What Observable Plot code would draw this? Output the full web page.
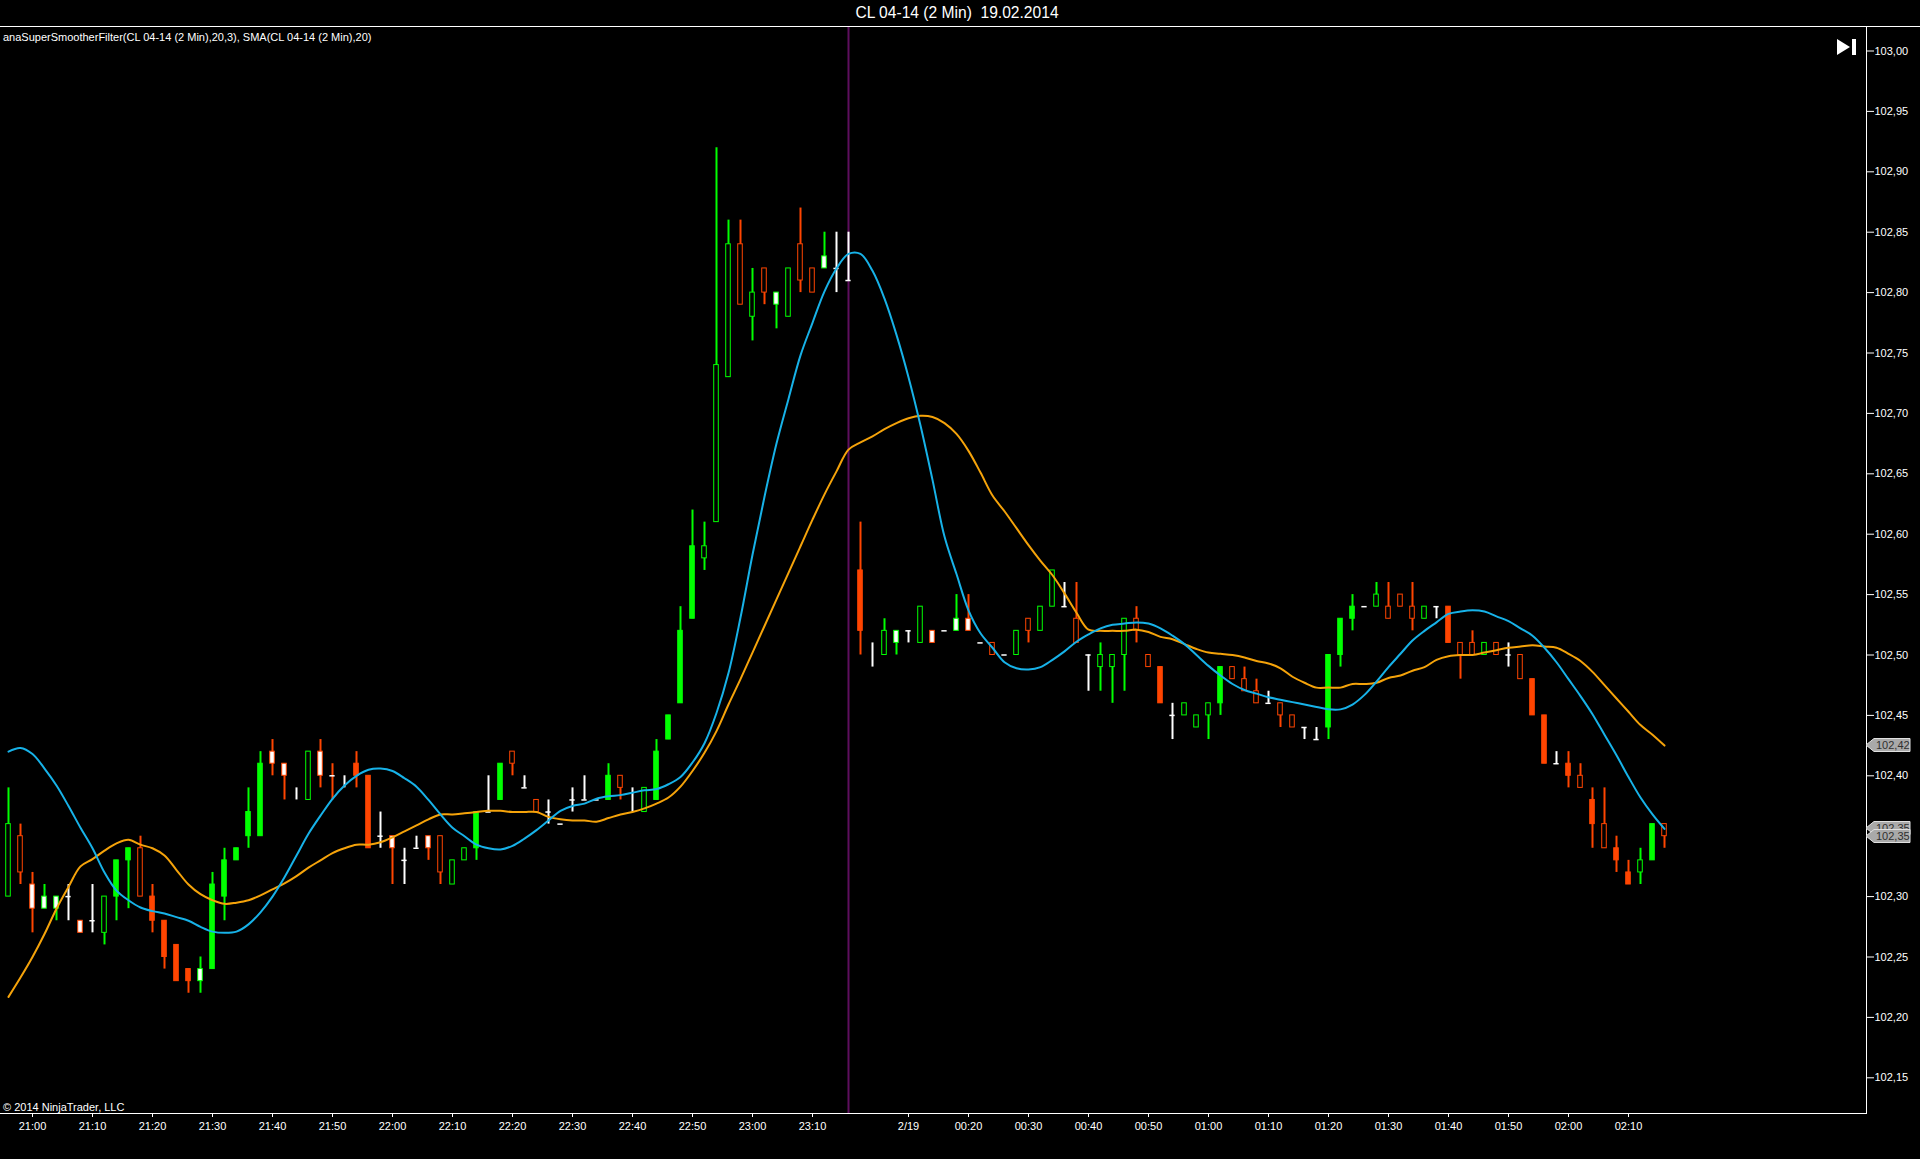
<!DOCTYPE html>
<html><head><meta charset="utf-8">
<script src="https://cdn.jsdelivr.net/npm/d3@7"></script>
<script src="https://cdn.jsdelivr.net/npm/@observablehq/plot@0.6"></script>
<style>
html,body{margin:0;padding:0;background:#000;}
#wrap{position:relative;width:1920px;height:1159px;background:#000;overflow:hidden;font-family:"Liberation Sans",Arial,sans-serif;}
#chart{position:absolute;left:0;top:0;}
#title{position:absolute;left:-3px;top:0;width:1920px;height:26px;line-height:26px;text-align:center;color:#fff;font-size:15.6px;white-space:pre;}
#topline{position:absolute;left:0;top:26px;width:1920px;height:1px;background:#fff;}
#legend{position:absolute;left:3px;top:31px;color:#fff;font-size:11px;white-space:pre;}
#copy{position:absolute;left:3px;top:1101px;color:#fff;font-size:11px;}
#icon{position:absolute;left:1834px;top:36px;}
</style></head>
<body><div id="wrap">
<div id="chart"></div>
<div id="title">CL 04-14 (2 Min)  19.02.2014</div>
<div id="topline"></div>
<div id="legend">anaSuperSmootherFilter(CL 04-14 (2 Min),20,3), SMA(CL 04-14 (2 Min),20)</div>
<div id="copy">© 2014 NinjaTrader, LLC</div>
<svg id="icon" width="26" height="22"><polygon points="3,3 16,11 3,19" fill="#fff"/><rect x="18" y="3" width="4" height="16" fill="#fff"/></svg>
</div>
<script>
// Bars indexed 0..138 (2-minute bars, 20:56 .. 02:16)
const opens = [102.30,102.35,102.31,102.29,102.29,102.30,102.28,102.28,102.27,102.30,
102.33,102.34,102.30,102.28,102.26,102.24,102.23,102.24,102.30,102.33,
102.35,102.35,102.42,102.41,102.39,102.38,102.42,102.41,102.40,102.41,
102.40,102.35,102.35,102.33,102.34,102.35,102.35,102.31,102.33,102.34,
102.37,102.38,102.42,102.39,102.38,102.37,102.36,102.38,102.38,102.38,
102.38,102.40,102.39,102.37,102.38,102.43,102.46,102.53,102.58,102.61,
102.73,102.84,102.78,102.82,102.79,102.78,102.84,102.82,102.82,102.82,
102.81,102.57,102.50,102.50,102.51,102.52,102.51,102.52,102.52,102.52,
102.53,102.51,102.51,102.50,102.50,102.53,102.52,102.54,102.54,102.53,
102.50,102.49,102.49,102.50,102.53,102.50,102.49,102.45,102.45,102.44,
102.45,102.46,102.49,102.48,102.47,102.46,102.46,102.45,102.44,102.43,
102.44,102.50,102.53,102.54,102.54,102.54,102.55,102.54,102.53,102.54,
102.54,102.51,102.51,102.50,102.51,102.50,102.50,102.48,102.45,102.41,
102.41,102.40,102.38,102.36,102.34,102.32,102.32,102.33,102.36];
const highs = [102.39,102.36,102.32,102.31,102.30,102.31,102.28,102.31,102.30,102.33,
102.34,102.35,102.31,102.28,102.26,102.24,102.25,102.32,102.34,102.34,
102.39,102.42,102.43,102.41,102.39,102.42,102.43,102.41,102.40,102.42,
102.40,102.37,102.35,102.34,102.35,102.35,102.35,102.33,102.34,102.37,
102.40,102.41,102.42,102.40,102.38,102.38,102.36,102.39,102.40,102.38,
102.41,102.40,102.39,102.39,102.43,102.45,102.54,102.62,102.61,102.92,
102.86,102.86,102.82,102.82,102.80,102.82,102.87,102.82,102.85,102.85,
102.85,102.61,102.51,102.53,102.52,102.52,102.54,102.52,102.52,102.55,
102.55,102.51,102.51,102.50,102.52,102.53,102.54,102.57,102.56,102.56,
102.50,102.51,102.50,102.53,102.54,102.50,102.49,102.46,102.46,102.45,
102.46,102.49,102.49,102.49,102.48,102.47,102.46,102.45,102.44,102.44,
102.50,102.53,102.55,102.54,102.56,102.56,102.55,102.56,102.54,102.54,
102.54,102.51,102.52,102.51,102.51,102.51,102.50,102.48,102.45,102.42,
102.42,102.41,102.39,102.39,102.35,102.33,102.34,102.36,102.36];
const lows = [102.30,102.31,102.27,102.29,102.28,102.28,102.27,102.27,102.26,102.28,
102.29,102.30,102.27,102.24,102.23,102.22,102.22,102.24,102.28,102.33,
102.34,102.35,102.40,102.38,102.38,102.38,102.39,102.38,102.39,102.39,
102.34,102.34,102.31,102.31,102.34,102.33,102.31,102.31,102.33,102.33,
102.37,102.38,102.40,102.39,102.37,102.36,102.36,102.37,102.38,102.38,
102.38,102.38,102.37,102.37,102.38,102.43,102.46,102.53,102.57,102.61,
102.73,102.79,102.76,102.79,102.77,102.78,102.80,102.80,102.82,102.80,
102.81,102.50,102.49,102.50,102.50,102.51,102.51,102.51,102.52,102.52,
102.52,102.51,102.50,102.50,102.50,102.51,102.52,102.54,102.54,102.51,
102.47,102.47,102.46,102.47,102.51,102.49,102.46,102.43,102.45,102.44,
102.43,102.45,102.48,102.47,102.46,102.46,102.44,102.44,102.43,102.43,
102.43,102.49,102.52,102.54,102.54,102.53,102.54,102.52,102.53,102.53,
102.51,102.48,102.50,102.50,102.50,102.49,102.48,102.45,102.41,102.41,
102.39,102.39,102.34,102.34,102.32,102.31,102.31,102.33,102.34];
const closes = [102.36,102.32,102.29,102.30,102.30,102.30,102.27,102.28,102.30,102.33,
102.34,102.30,102.28,102.25,102.23,102.23,102.24,102.31,102.33,102.34,
102.37,102.41,102.41,102.40,102.39,102.42,102.40,102.40,102.40,102.40,
102.34,102.35,102.34,102.33,102.34,102.34,102.32,102.33,102.34,102.37,
102.37,102.41,102.41,102.39,102.37,102.37,102.36,102.38,102.38,102.38,
102.40,102.39,102.39,102.39,102.42,102.45,102.52,102.59,102.59,102.74,
102.84,102.79,102.80,102.80,102.80,102.82,102.81,102.80,102.83,102.82,
102.81,102.52,102.50,102.52,102.52,102.52,102.54,102.51,102.52,102.53,
102.52,102.51,102.50,102.50,102.52,102.52,102.54,102.57,102.54,102.51,
102.50,102.50,102.50,102.53,102.52,102.49,102.46,102.45,102.46,102.45,
102.46,102.49,102.48,102.47,102.46,102.46,102.45,102.44,102.44,102.43,
102.50,102.53,102.54,102.54,102.55,102.53,102.54,102.53,102.54,102.54,
102.51,102.50,102.50,102.51,102.50,102.50,102.48,102.45,102.41,102.41,
102.40,102.39,102.36,102.34,102.33,102.31,102.33,102.36,102.35];
// body style: s = solid, h = hollow, w = white-filled, - = doji
const bodyStyle = ("hhwww-w-hs"+"shsssswsss"+"sswwhhw-ws"+"s-w--whhhs"+"-sh-h-----"+"shhhsssshh"+"hhhhwhhhw-"+"-shhw-hw-w"+"w-h-hhhh-h"+"-hhhhhs-hh"+"hshhh-hh--"+"sss-hhhhh-"+"shhhh-hss-"+"shshsshsh").split("");
const superSmoother = [102.420,102.423,102.418,102.406,102.392,102.375,102.357,102.340,102.320,102.305,
102.297,102.291,102.288,102.286,102.283,102.280,102.275,102.271,102.270,102.271,
102.277,102.287,102.300,102.316,102.334,102.352,102.367,102.381,102.392,102.400,
102.405,102.406,102.404,102.398,102.391,102.380,102.368,102.357,102.350,102.343,
102.340,102.339,102.342,102.348,102.355,102.363,102.371,102.375,102.377,102.381,
102.383,102.384,102.386,102.388,102.389,102.393,102.399,102.411,102.427,102.452,
102.485,102.531,102.583,102.631,102.675,102.712,102.748,102.775,102.801,102.820,
102.832,102.832,102.818,102.795,102.765,102.730,102.690,102.645,102.598,102.567,
102.537,102.518,102.506,102.494,102.489,102.488,102.490,102.496,102.503,102.511,
102.517,102.522,102.525,102.526,102.527,102.526,102.522,102.516,102.509,102.500,
102.491,102.483,102.476,102.471,102.468,102.465,102.463,102.461,102.459,102.457,
102.455,102.455,102.459,102.467,102.478,102.490,102.501,102.512,102.520,102.527,
102.534,102.536,102.537,102.536,102.532,102.528,102.522,102.516,102.506,102.494,
102.480,102.466,102.451,102.434,102.417,102.399,102.382,102.368,102.356];
const sma20 = [102.217,102.233,102.250,102.269,102.290,102.308,102.325,102.331,102.338,102.344,
102.347,102.343,102.340,102.334,102.322,102.310,102.302,102.297,102.294,102.295,
102.297,102.301,102.306,102.311,102.317,102.324,102.330,102.336,102.340,102.343,
102.343,102.345,102.349,102.354,102.359,102.364,102.368,102.368,102.369,102.370,
102.371,102.371,102.370,102.370,102.370,102.366,102.364,102.363,102.363,102.362,
102.365,102.368,102.370,102.373,102.377,102.382,102.391,102.404,102.419,102.437,
102.459,102.480,102.502,102.524,102.546,102.568,102.590,102.612,102.633,102.652,
102.670,102.676,102.681,102.687,102.692,102.696,102.698,102.697,102.692,102.683,
102.669,102.651,102.632,102.619,102.605,102.591,102.578,102.566,102.551,102.535,
102.521,102.520,102.520,102.520,102.521,102.519,102.515,102.513,102.509,102.505,
102.502,102.501,102.500,102.498,102.495,102.493,102.489,102.482,102.477,102.473,
102.473,102.473,102.476,102.476,102.477,102.481,102.483,102.487,102.490,102.496,
102.499,102.500,102.500,102.502,102.504,102.506,102.507,102.508,102.507,102.506,
102.501,102.495,102.486,102.475,102.464,102.453,102.442,102.434,102.425];
const xTickIdx = [2,7,12,17,22,27,32,37,42,47,52,57,62,67,75,80,85,90,95,100,105,110,115,120,125,130,135];
const xTickLabels = ["21:00","21:10","21:20","21:30","21:40","21:50","22:00","22:10","22:20","22:30","22:40","22:50","23:00","23:10","2/19","00:20","00:30","00:40","00:50","01:00","01:10","01:20","01:30","01:40","01:50","02:00","02:10"];
const yTicks = [102.15,102.20,102.25,102.30,102.35,102.40,102.45,102.50,102.55,102.60,102.65,102.70,102.75,102.80,102.85,102.90,102.95,103.00];
const sessionBreakIdx = [70];

const UP = "#00ff00", DOWN = "#ff4500", FLAT = "#ffffff";
const bars = opens.map((o, i) => {
  const c = closes[i];
  const col = c > o ? UP : c < o ? DOWN : FLAT;
  const st = bodyStyle[i];
  return {i, o, h: highs[i], l: lows[i], c, col, st,
    fillCol: st === "s" ? col : st === "w" ? "#ffffff" : "#000000"};
});
const lines = superSmoother.map((v, i) => ({i, ss: v, sma: sma20[i]}));
const fmt = v => (Math.floor(v * 100 + 1e-6) / 100).toFixed(2).replace(".", ",");

const chart = Plot.plot({
  width: 1920, height: 1159,
  marginTop: 27, marginBottom: 46, marginLeft: 0, marginRight: 54,
  style: {background: "transparent", color: "#fff", fontFamily: "'Liberation Sans', Arial, sans-serif", fontSize: "11px", overflow: "visible"},
  x: {domain: [-2/3, 154.8333], label: null},
  y: {domain: [102.120447, 103.019454], label: null},
  marks: [
    Plot.ruleX(sessionBreakIdx, {x: d => d, stroke: "#5e0f5e", strokeWidth: 2}),
    Plot.ruleX(bars, {x: "i", y1: "l", y2: "h", stroke: "col", strokeWidth: 2}),
    Plot.rect(bars.filter(d => d.st !== "-"), {x1: d => d.i - 0.19, x2: d => d.i + 0.19,
      y1: d => Math.min(d.o, d.c), y2: d => Math.max(d.o, d.c), fill: "fillCol", stroke: "col", strokeWidth: 1}),
    Plot.ruleY(bars.filter(d => d.st === "-"), {x1: d => d.i - 0.22, x2: d => d.i + 0.22, y: "c", stroke: "#ffffff", strokeWidth: 1.5}),
    Plot.line(lines, {x: "i", y: "sma", stroke: "#f5a30a", strokeWidth: 2, curve: "catmull-rom"}),
    Plot.line(lines, {x: "i", y: "ss", stroke: "#17b2e8", strokeWidth: 2, curve: "catmull-rom"}),
    Plot.frame({anchor: "right", stroke: "#fff"}),
    Plot.frame({anchor: "bottom", stroke: "#fff"}),
    Plot.axisY({anchor: "right", ticks: yTicks, tickSize: 7, tickPadding: 1, tickFormat: fmt, fontSize: 11, label: null}),
    Plot.axisX({anchor: "bottom", ticks: xTickIdx, tickSize: 4, tickPadding: 5, fontSize: 11, label: null,
      tickFormat: d => xTickLabels[xTickIdx.indexOf(d)]})
  ]
});
document.getElementById("chart").appendChild(chart);

// last-value markers on the price axis
const ys = chart.scale("y");
const svg = d3.select(chart);
const markers = [
  {v: sma20[sma20.length - 1]},
  {v: superSmoother[superSmoother.length - 1]},
  {v: closes[closes.length - 1]}
];
const gm = svg.append("g").attr("text-anchor", "start");
markers.forEach(m => {
  const y = Math.round(ys.apply(m.v));
  const x0 = 1866;
  gm.append("polygon")
    .attr("points", `${x0},${y} ${x0+8},${y-6.5} ${x0+44},${y-6.5} ${x0+44},${y+6.5} ${x0+8},${y+6.5}`)
    .attr("fill", "#a9a9a9").attr("stroke", "#e0e0e0").attr("stroke-width", 1);
  gm.append("text").attr("x", x0 + 10).attr("y", y).attr("dy", "0.35em")
    .attr("text-anchor", "start")
    .attr("fill", "#303030").attr("font-size", 11).text(fmt(m.v));
});
</script>
</body></html>
